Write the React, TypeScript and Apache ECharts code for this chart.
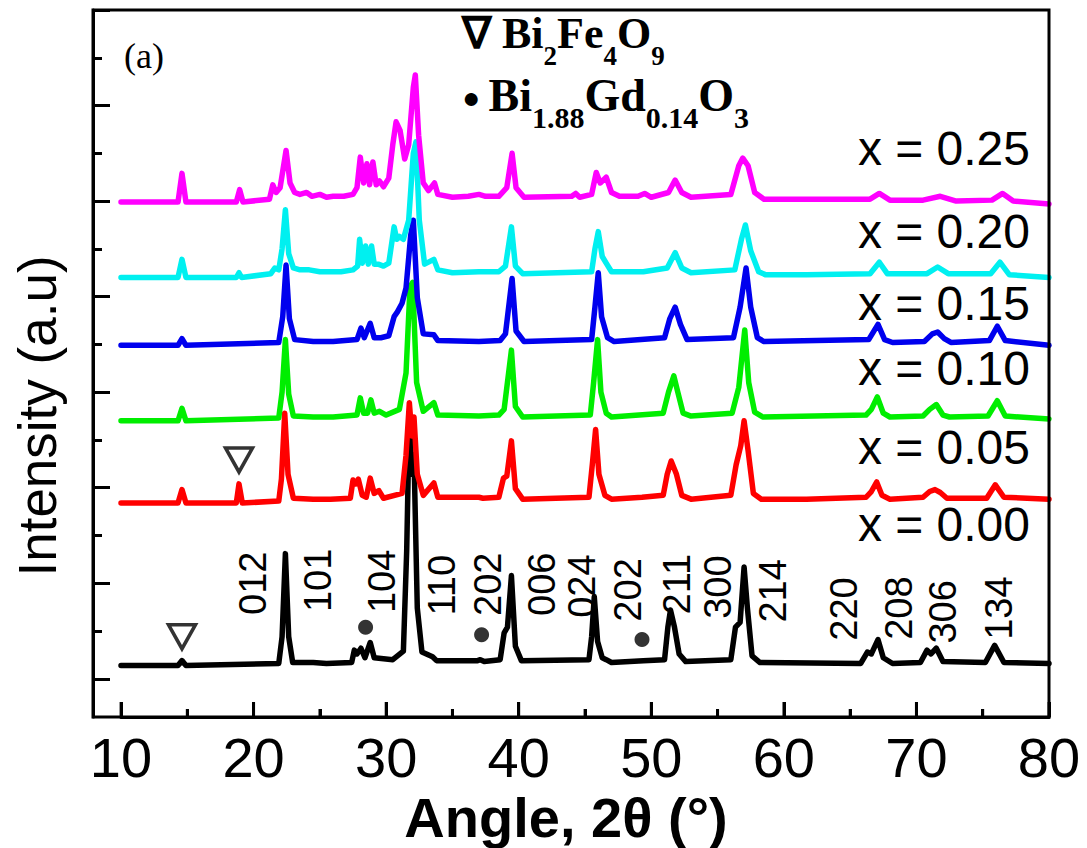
import React, { useEffect, useRef } from 'react';
import * as echarts from 'echarts';

// ---------- data ----------
const seriesNames = ['x = 0.00', 'x = 0.05', 'x = 0.10', 'x = 0.15', 'x = 0.20', 'x = 0.25'];
const seriesColors = ['#000000', '#ff0000', '#00ee00', '#0000ee', '#00f0f0', '#ff00ff'];
// vertical offsets used to stack the patterns (a.u.)
const offsets = [14, 184, 270, 349, 420, 499];

// [2θ, intensity above own baseline]
const pattern000 = [[10,0],[14.3,0],[14.6,5],[14.9,0],[21.9,2],[22.15,30],[22.4,117],[22.65,30],[22.95,3],[24.5,3],[25.5,2],[27.4,3],[27.6,16],[27.8,12],[28.1,18],[28.4,8],[28.8,24],[29.1,8],[30.5,6],[31.3,15],[31.55,120],[31.75,262],[31.95,200],[32.1,220],[32.35,60],[32.7,14],[33.5,9],[33.8,5],[36.9,5],[37.1,6],[37.4,4],[38.6,6],[38.9,34],[39.15,40],[39.45,94],[39.75,20],[40.2,5],[45.3,6],[45.5,30],[45.7,72],[45.95,25],[46.3,8],[46.6,6],[47,3],[49.4,5],[51.0,6],[51.25,40],[51.45,58],[51.75,40],[52.1,12],[52.6,4],[56.0,6],[56.35,40],[56.7,45],[57.0,103],[57.25,60],[57.6,10],[58.2,3],[65.8,2],[66.3,14],[66.6,12],[67.1,27],[67.5,8],[68.2,2],[70.3,3],[70.8,16],[71.1,12],[71.5,18],[72.0,4],[75.2,3],[75.9,21],[76.6,3],[80,2]];
const pattern005 = [[10,0],[14.3,0],[14.6,14],[14.9,0],[18.7,0],[18.9,20],[19.15,0],[21.9,2],[22.1,25],[22.35,94],[22.6,30],[23.0,5],[24.5,4],[25.8,4],[27.3,5],[27.5,24],[27.7,20],[27.9,25],[28.2,8],[28.5,6],[28.8,26],[29.1,10],[29.45,13],[29.8,5],[31.2,10],[31.5,50],[31.75,105],[31.95,70],[32.1,90],[32.35,30],[32.8,8],[33.6,21],[33.9,6],[37.0,6],[37.3,5],[38.5,6],[38.85,26],[39.1,28],[39.45,65],[39.75,15],[40.3,4],[45.3,6],[45.55,40],[45.8,77],[46.05,30],[46.5,8],[47,4],[49.3,6],[50.9,8],[51.2,30],[51.5,44],[51.9,30],[52.3,8],[53,4],[56.0,8],[56.4,40],[56.75,60],[57.0,86],[57.3,55],[57.7,10],[58.3,4],[61.7,4],[66.2,6],[66.6,12],[67.0,22],[67.4,8],[68,4],[70.5,6],[71.0,12],[71.4,14],[71.8,11],[72.3,5],[75.3,5],[75.95,19],[76.6,6],[80,4]];
const pattern010 = [[10,0],[14.3,0],[14.6,13],[14.9,0],[21.9,3],[22.15,30],[22.4,85],[22.65,28],[23.0,5],[24.5,4],[26,4],[27.8,6],[28.05,24],[28.3,8],[28.6,8],[28.85,22],[29.1,8],[29.5,10],[30.0,6],[31.0,12],[31.5,50],[31.8,140],[32.0,145],[32.3,40],[32.8,10],[33.6,19],[33.9,6],[37,5],[38.5,6],[38.9,12],[39.45,74],[39.75,15],[40.3,4],[45.4,6],[45.65,40],[45.95,85],[46.2,30],[46.6,8],[47,4],[50.9,8],[51.3,30],[51.7,47],[52.0,30],[52.4,8],[53,5],[56.1,8],[56.6,35],[57.05,95],[57.35,40],[57.8,9],[58.4,4],[66.2,6],[66.6,12],[67.05,25],[67.5,8],[68,4],[70.5,5],[71.0,12],[71.5,17],[72.0,6],[72.5,4],[75.4,5],[76.1,21],[76.7,5],[80,2]];
const pattern015 = [[10,0],[14.3,0],[14.6,7],[14.9,0],[21.9,3],[22.2,30],[22.45,84],[22.7,28],[23.1,6],[24.5,4],[26,4],[27.8,6],[28.1,18],[28.35,8],[28.8,23],[29.1,8],[29.6,8],[30.2,10],[30.6,30],[30.85,35],[31.2,44],[31.5,60],[31.85,115],[32.05,131],[32.35,50],[32.8,12],[33.6,11],[33.9,5],[37,4],[38.6,5],[39.0,12],[39.5,70],[39.8,15],[40.4,4],[45.5,6],[45.75,40],[46.0,76],[46.25,30],[46.7,8],[47.2,4],[51.0,8],[51.4,28],[51.8,40],[52.2,22],[52.7,6],[56.2,8],[56.7,40],[57.15,81],[57.5,40],[58.0,8],[58.5,4],[66.4,6],[67.1,22],[67.6,6],[68.2,3],[70.6,4],[71.2,12],[71.6,14],[72.1,7],[72.6,3],[75.5,5],[76.1,20],[76.7,5],[80,0]];
const pattern020 = [[10,0],[14.3,0],[14.6,19],[14.9,0],[18.7,0],[18.9,5],[19.1,0],[21.3,4],[21.6,10],[21.9,8],[22.15,30],[22.4,71],[22.65,25],[23.0,10],[23.5,8],[24.2,8],[25,6],[25.8,6],[26.6,6],[27.5,8],[27.85,12],[28.0,40],[28.2,15],[28.45,33],[28.65,14],[28.9,33],[29.1,14],[29.4,14],[29.8,12],[30.2,15],[30.6,53],[30.8,40],[31.0,43],[31.3,40],[31.7,60],[32.05,130],[32.25,142],[32.5,60],[32.9,14],[33.6,19],[33.9,8],[35,5],[37,6],[38.5,6],[39.0,12],[39.45,53],[39.75,12],[40.3,4],[45.5,6],[45.75,30],[46.0,48],[46.3,22],[46.6,15],[47,6],[49.4,6],[51.2,10],[51.8,26],[52.3,10],[53,5],[56.3,8],[56.8,40],[57.1,55],[57.5,28],[58.1,6],[58.6,3],[61.7,3],[66.5,4],[67.2,16],[67.8,4],[70.8,4],[71.6,11],[72.4,4],[75.6,4],[76.3,16],[77.0,3],[80,0]];
const pattern025 = [[10,0],[14.3,0],[14.6,30],[14.9,0],[18.7,0],[18.95,13],[19.2,0],[21.2,3],[21.45,18],[21.7,10],[22.0,15],[22.45,54],[22.75,20],[23.1,10],[23.5,8],[24.0,10],[24.4,6],[25.0,8],[25.5,5],[26.0,6],[26.8,6],[27.5,8],[27.8,15],[28.05,47],[28.3,20],[28.55,40],[28.75,18],[29.0,42],[29.25,18],[29.5,22],[29.8,16],[30.2,25],[30.5,60],[30.75,84],[31.05,75],[31.4,45],[31.7,60],[32.05,120],[32.2,133],[32.45,70],[32.8,20],[33.2,12],[33.65,20],[33.9,8],[35,5],[36.2,6],[37.0,8],[37.5,6],[38.5,6],[39.1,15],[39.5,51],[39.8,15],[40.4,5],[44.0,6],[44.3,9],[44.6,5],[45.5,8],[45.85,31],[46.15,20],[46.6,26],[47.0,10],[47.6,6],[49.0,6],[49.5,9],[50.0,5],[51.3,10],[51.8,23],[52.3,10],[53,5],[56.0,8],[56.6,38],[56.9,46],[57.3,38],[57.8,10],[58.5,3],[61.7,3],[66.5,3],[67.2,9],[68,2],[70.5,2],[71.8,6],[73,1],[75.7,2],[76.5,9],[77.3,1],[80,-2]];
const patterns = [pattern000, pattern005, pattern010, pattern015, pattern020, pattern025];

// Miller indices of the x = 0.00 reflections
const hklLabels = ['012', '101', '104', '110', '202', '006', '024', '202', '211', '300', '214', '220', '208', '306', '134'];
const hklAngles = [19.95, 24.85, 29.67, 34.19, 37.66, 41.73, 44.74, 48.21, 51.97, 55.06, 59.2, 64.56, 68.7, 72.02, 76.24];
const hklHeights = [100, 103, 102, 98, 99, 99, 97, 93, 99, 96, 92, 73, 74, 70, 74];

// phase markers: ∇ Bi2Fe4O9, ● Bi1.88Gd0.14O3
const nablaMarks = [[14.6, 44], [18.9, 229]];
const dotMarks = [[28.45, 54], [37.2, 46], [49.3, 41]];

// axes ticks
const xMin = 10;
const xMax = 80;
const xInterval = 10;
const xTicks = [10, 20, 30, 40, 50, 60, 70, 80];
const xMinorTicks = [15, 25, 35, 45, 55, 65, 75];
const yMin = -40;
const yMax = 700;
const yTicks = [0, 100, 200, 300, 400, 500, 600, 700];
const yMinorTicks = [50, 150, 250, 350, 450, 550, 650];

// ---------- styles / layout ----------
const SANS = '"Liberation Sans", Arial, sans-serif';
const SERIF = '"Liberation Serif", "Times New Roman", serif';
const seriesLabelY = [524, 447, 368, 303, 231, 148];

export default function App() {
  const ref = useRef<HTMLDivElement>(null);
  useEffect(() => {
    if (!ref.current) return;
    const chart = echarts.init(ref.current, null, { renderer: 'svg' });

    const lineSeries = patterns.map((p, i) => ({
      type: 'line',
      name: seriesNames[i],
      data: p.map(([x, y]) => [x, y + offsets[i]]),
      showSymbol: false,
      symbol: 'none',
      smooth: false,
      lineStyle: { color: seriesColors[i], width: 5.5, join: 'round', cap: 'round' },
      itemStyle: { color: seriesColors[i] },
      z: 2 + i,
      silent: true,
    }));

    const option: any = {
      animation: false,
      backgroundColor: '#ffffff',
      grid: { left: 121, right: 38, top: 10, bottom: 131, show: false, containLabel: false, outerBoundsMode: 'none' },
      xAxis: {
        type: 'value', min: xMin, max: xMax, interval: xInterval,
        axisLine: { show: true, onZero: false, lineStyle: { color: '#000', width: 3 } },
        axisTick: { show: true, inside: true, length: 15, lineStyle: { color: '#000', width: 3 } },
        minorTick: { show: true, splitNumber: 2, length: 8, lineStyle: { color: '#000', width: 3 } },
        axisLabel: { show: true, margin: 12, fontSize: 56, fontFamily: SANS, color: '#000' },
        splitLine: { show: false }, minorSplitLine: { show: false },
        name: 'Angle, 2θ (°)', nameLocation: 'middle', nameGap: 72,
        nameTextStyle: { fontSize: 56, fontWeight: 'bold', fontFamily: SANS, color: '#000', padding: [0, 38, 0, 0] },
      },
      yAxis: [
        {
          type: 'value', min: yMin, max: yMax, position: 'left', offset: 28,
          axisLine: { show: true, onZero: false, lineStyle: { color: '#000', width: 3 } },
          axisTick: { show: true, inside: true, length: 17, customValues: yTicks, lineStyle: { color: '#000', width: 3 } },
          axisLabel: { show: false },
          splitLine: { show: false },
        },
        {
          type: 'value', min: yMin, max: yMax, position: 'left', offset: 28,
          axisLine: { show: false, onZero: false },
          axisTick: { show: true, inside: true, length: 9, customValues: yMinorTicks, lineStyle: { color: '#000', width: 3 } },
          axisLabel: { show: false },
          splitLine: { show: false },
        },
      ],
      series: [
        ...lineSeries,
        // x-axis tick marks on the bottom edge (same positions as the axis ticks)
        {
          type: 'scatter', name: 'xticks', silent: true, z: 20, clip: false,
          data: xTicks.map((t) => [t, yMin]), symbol: 'rect', symbolSize: [3, 15], symbolOffset: [0, -7.5],
          itemStyle: { color: '#000' },
        },
        {
          type: 'scatter', name: 'xminorticks', silent: true, z: 20, clip: false,
          data: xMinorTicks.map((t) => [t, yMin]), symbol: 'rect', symbolSize: [3, 8], symbolOffset: [0, -4],
          itemStyle: { color: '#000' },
        },
        {
          type: 'scatter', name: 'hkl', silent: true, z: 10,
          data: hklLabels.map((n, i) => ({ name: n, value: [hklAngles[i], hklHeights[i]] })),
          symbolSize: 1, itemStyle: { color: 'rgba(0,0,0,0)' },
          label: { show: true, formatter: '{b}', position: 'inside', rotate: 90, fontSize: 38, fontFamily: SANS, color: '#000', opacity: 1 },
        },
        {
          type: 'scatter', name: 'Bi2Fe4O9', silent: true, z: 10,
          data: nablaMarks, symbol: 'triangle', symbolRotate: 180, symbolSize: [27, 24],
          itemStyle: { color: '#ffffff', borderColor: '#000', borderWidth: 3.5 },
        },
        {
          type: 'scatter', name: 'Bi1.88Gd0.14O3', silent: true, z: 10,
          data: dotMarks, symbol: 'circle', symbolSize: 15,
          itemStyle: { color: '#000' },
        },
      ],
      graphic: [
        {
          type: 'rect', silent: true, z: 100,
          shape: { x: 93, y: 10, width: 956, height: 707 },
          style: { fill: 'none', stroke: '#000', lineWidth: 3 },
        },
        {
          type: 'text', x: 37, y: 416, rotation: Math.PI / 2, silent: true,
          style: { text: 'Intensity (a.u)', font: `53px ${SANS}`, fill: '#000', align: 'center', verticalAlign: 'middle' },
        },
        {
          type: 'text', x: 124, y: 38, silent: true,
          style: { text: '(a)', font: `36px ${SERIF}`, fill: '#000', align: 'left', verticalAlign: 'top' },
        },
        {
          type: 'text', x: 462, y: 11, silent: true,
          style: {
            text: '{m|∇ Bi}{s|2}{m|Fe}{s|4}{m|O}{s|9}', align: 'left', verticalAlign: 'top',
            rich: {
              m: { fontSize: 44, lineHeight: 46, fontWeight: 'bold', fontFamily: SERIF, fill: '#000', verticalAlign: 'top' },
              s: { fontSize: 27, lineHeight: 27, fontWeight: 'bold', fontFamily: SERIF, fill: '#000', verticalAlign: 'top', padding: [31, 0, 0, 0] },
            },
          },
        },
        {
          type: 'text', x: 462, y: 72, silent: true,
          style: {
            text: '{d|● }{m|Bi}{s|1.88}{m|Gd}{s|0.14}{m|O}{s|3}', align: 'left', verticalAlign: 'top',
            rich: {
              d: { fontSize: 30, lineHeight: 38, fontFamily: SANS, fill: '#000', verticalAlign: 'top', padding: [10, 0, 0, 0] },
              m: { fontSize: 46, lineHeight: 48, fontWeight: 'bold', fontFamily: SERIF, fill: '#000', verticalAlign: 'top' },
              s: { fontSize: 30, lineHeight: 30, fontWeight: 'bold', fontFamily: SERIF, fill: '#000', verticalAlign: 'top', padding: [30, 0, 0, 0] },
            },
          },
        },
        ...seriesNames.map((n, i) => ({
          type: 'text', x: 1030, y: seriesLabelY[i], silent: true,
          style: { text: n, font: `48px ${SANS}`, fill: '#000', align: 'right', verticalAlign: 'middle' },
        })),
      ],
    };
    chart.setOption(option);
    return () => chart.dispose();
  }, []);

  return <div ref={ref} style={{ position: 'fixed', left: 0, top: 0, width: 1087, height: 848, background: '#fff' }} />;
}
